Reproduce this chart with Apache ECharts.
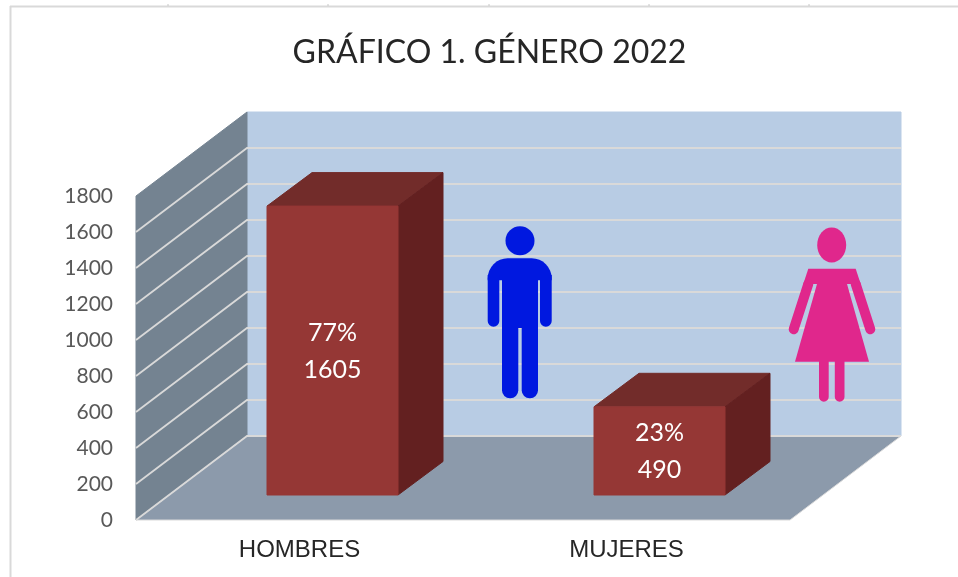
<!DOCTYPE html>
<html>
<head>
<meta charset="utf-8">
<title>Género 2022</title>
<style>
  html, body { margin: 0; padding: 0; background: #fff; }
  #main { width: 958px; height: 577px; }
</style>
<script src="https://cdn.jsdelivr.net/npm/echarts@6/dist/echarts.min.js"></script>
</head>
<body>
<div id="main"></div>
<script>
const titleText = 'GRÁFICO 1. GÉNERO 2022';
const categories = ['HOMBRES', 'MUJERES'];
const totals = [1605, 490];
const percents = ['77%', '23%'];
const yTicks = [0, 200, 400, 600, 800, 1000, 1200, 1400, 1600, 1800];

// profundidad de la caja 3D y de las barras, en pixeles
const boxDepth = [111, -84];
const barInset = [33, -25];
const barDepth = [45, -33.5];
const barWidth = 131;

const manColor = '#0018E0';
const womanColor = '#E0278C';
const gridColor = '#D9D9D9';

const yMax = yTicks[yTicks.length - 1];
const chart = echarts.init(document.getElementById('main'));

function poly(points, fill, stroke) {
  return {
    type: 'polygon',
    shape: { points: points },
    style: { fill: fill, stroke: stroke || fill, lineWidth: 1 }
  };
}

function renderBox(params, api) {
  const sys = params.coordSys;
  const l = sys.x, r = sys.x + sys.width, t = sys.y, b = sys.y + sys.height;
  const dx = boxDepth[0], dy = boxDepth[1];
  return {
    type: 'group',
    children: [
      poly([[l + dx, t + dy], [r + dx, t + dy], [r + dx, b + dy], [l + dx, b + dy]], '#B8CCE4'),
      poly([[l, t], [l + dx, t + dy], [l + dx, b + dy], [l, b]], '#748391'),
      poly([[l, b], [l + dx, b + dy], [r + dx, b + dy], [r, b]], '#8C9AAB', gridColor)
    ]
  };
}

function renderGridLine(params, api) {
  const sys = params.coordSys;
  const y = api.coord([0, api.value(0)])[1];
  const l = sys.x, r = sys.x + sys.width;
  const dx = boxDepth[0], dy = boxDepth[1];
  const style = { stroke: gridColor, lineWidth: 1.8, fill: 'none' };
  return {
    type: 'polyline',
    shape: { points: [[l, y], [l + dx, y + dy], [r + dx, y + dy]] },
    style: style
  };
}

function renderBar(params, api) {
  const idx = api.value(0);
  const val = api.value(1);
  const base = api.coord([idx, 0]);
  const top = api.coord([idx, val]);
  const x0 = base[0] + barInset[0] - barWidth / 2;
  const x1 = x0 + barWidth;
  const y0 = top[1] + barInset[1];
  const y1 = base[1] + barInset[1];
  const dx = barDepth[0], dy = barDepth[1];
  return {
    type: 'group',
    children: [
      poly([[x0, y0], [x0 + dx, y0 + dy], [x1 + dx, y0 + dy], [x1, y0]], '#722C2A'),
      poly([[x1, y0], [x1 + dx, y0 + dy], [x1 + dx, y1 + dy], [x1, y1]], '#632020'),
      poly([[x0, y0], [x1, y0], [x1, y1], [x0, y1]], '#953735'),
      {
        type: 'text',
        style: {
          x: (x0 + x1) / 2,
          y: (y0 + y1) / 2 + 1,
          text: percents[idx] + '\n' + val,
          fill: '#fff',
          font: '25px Lato',
          lineHeight: 37,
          align: 'center',
          verticalAlign: 'middle'
        }
      }
    ]
  };
}

// figuras de hombre y mujer
const manIcon = {
  type: 'group',
  children: [
    { type: 'circle', shape: { cx: 520, cy: 240.7, r: 14.5 } },
    { type: 'rect', shape: { x: 487.7, y: 258.3, width: 64, height: 22, r: [20, 20, 0, 0] } },
    { type: 'rect', shape: { x: 487.7, y: 275, width: 11.6, height: 51.7, r: [0, 0, 5.8, 5.8] } },
    { type: 'rect', shape: { x: 540, y: 275, width: 11.7, height: 51.7, r: [0, 0, 5.8, 5.8] } },
    { type: 'rect', shape: { x: 502, y: 270, width: 36, height: 58 } },
    { type: 'rect', shape: { x: 502, y: 320, width: 16.3, height: 78.3, r: [0, 0, 8, 8] } },
    { type: 'rect', shape: { x: 521.7, y: 320, width: 16.3, height: 78.3, r: [0, 0, 8, 8] } }
  ].map(function (el) {
    el.z = 10;
    el.style = { fill: manColor };
    return el;
  })
};

const womanIcon = {
  type: 'group',
  children: [
    { type: 'ellipse', shape: { cx: 831.7, cy: 245, rx: 14.5, ry: 17.5 }, style: { fill: womanColor } },
    { type: 'polygon', shape: { points: [[808.3, 268.7], [855.7, 268.7], [860.7, 284], [803.3, 284]] }, style: { fill: womanColor } },
    { type: 'polygon', shape: { points: [[817, 284], [847, 284], [869, 361.7], [795, 361.7]] }, style: { fill: womanColor } },
    { type: 'line', shape: { x1: 808.3, y1: 284, x2: 793.7, y2: 329.3 }, style: { stroke: womanColor, lineWidth: 10, lineCap: 'round' } },
    { type: 'line', shape: { x1: 855.7, y1: 284, x2: 870.3, y2: 329.3 }, style: { stroke: womanColor, lineWidth: 10, lineCap: 'round' } },
    { type: 'rect', shape: { x: 819, y: 360, width: 9.7, height: 41.7, r: [0, 0, 4.8, 4.8] }, style: { fill: womanColor } },
    { type: 'rect', shape: { x: 834.8, y: 360, width: 9.7, height: 41.7, r: [0, 0, 4.8, 4.8] }, style: { fill: womanColor } }
  ].map(function (el) {
    el.z = 10;
    return el;
  })
};

// marco de la hoja con sus marcas de regla
const sheetTicks = [168, 328, 489, 649, 809];
const sheetFrame = [
  { type: 'line', shape: { x1: 10, y1: 6.5, x2: 958, y2: 6.5 }, style: { stroke: gridColor, lineWidth: 2 } },
  { type: 'line', shape: { x1: 10.5, y1: 6, x2: 10.5, y2: 577 }, style: { stroke: gridColor, lineWidth: 2 } }
].concat(sheetTicks.map(function (x) {
  return { type: 'line', shape: { x1: x, y1: 4, x2: x, y2: 6 }, style: { stroke: '#C8C8C8', lineWidth: 1 } };
}));

chart.setOption({
  animation: false,
  title: {
    text: titleText,
    left: 489.5,
    top: 53,
    padding: 0,
    textAlign: 'center',
    textVerticalAlign: 'middle',
    textStyle: { fontFamily: 'Lato', fontSize: 32, fontWeight: 'normal', color: '#262626' }
  },
  grid: { left: 136, right: 168, top: 196, bottom: 57 },
  xAxis: {
    type: 'category',
    data: categories,
    axisLine: { show: false },
    axisTick: { show: false },
    axisLabel: { fontFamily: 'Liberation Sans', fontSize: 24, color: '#262626', margin: 18 }
  },
  yAxis: {
    type: 'value',
    min: 0,
    max: yMax,
    interval: 200,
    axisLine: { show: false },
    axisTick: { show: false },
    splitLine: { show: false },
    axisLabel: {
      fontFamily: 'Lato',
      fontSize: 21,
      color: '#595959',
      margin: 23,
      formatter: function (v) { return String(v); }
    }
  },
  graphic: { elements: sheetFrame.concat([manIcon, womanIcon]) },
  series: [
    { type: 'custom', name: 'caja', silent: true, z: 1, clip: false, renderItem: renderBox, data: [[0]] },
    {
      type: 'custom',
      name: 'rejilla',
      silent: true,
      z: 2,
      clip: false,
      renderItem: renderGridLine,
      data: yTicks.filter(function (v) { return v < yMax; }).map(function (v) { return [v]; })
    },
    {
      type: 'custom',
      name: 'Género',
      z: 3,
      clip: false,
      renderItem: renderBar,
      data: totals.map(function (v, i) { return [i, v]; })
    }
  ]
});
</script>
</body>
</html>
